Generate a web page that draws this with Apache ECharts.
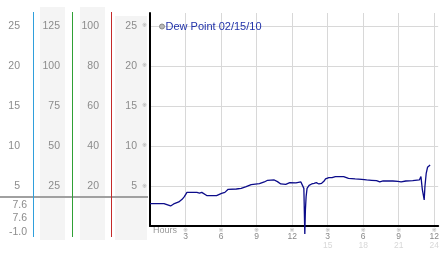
<!DOCTYPE html>
<html><head><meta charset="utf-8">
<script src="https://cdn.jsdelivr.net/npm/echarts@6/dist/echarts.min.js"></script>
<style>html,body{margin:0;padding:0;background:#fff}#c{width:442px;height:253px}</style>
</head><body><div id="c"></div>
<script>
const seriesName = 'Dew Point 02/15/10';
const hours = [0, 1.18, 1.32, 1.74, 2.0, 2.43, 2.71, 2.9, 3.12, 3.96, 4.18, 4.37, 4.79, 5.62, 6.04, 6.32, 6.6, 7.29, 7.7, 8.12, 8.54, 9.24, 9.65, 9.93, 10.49, 10.76, 11.04, 11.46, 11.8, 11.96, 12.32, 12.74, 12.875, 12.99, 13.07, 13.12, 13.18, 13.26, 13.43, 13.65, 13.85, 14.04, 14.26, 14.49, 14.68, 14.82, 15.1, 15.37, 15.65, 16.35, 16.76, 17.32, 17.875, 18.29, 18.71, 19.125, 19.4, 19.68, 20.1, 20.5, 20.93, 21.2, 21.6, 22.18, 22.74, 22.875, 22.99, 23.1, 23.15, 23.21, 23.32, 23.43, 23.65];
const dewPoint = [2.8, 2.8, 2.7, 2.5, 2.75, 3.0, 3.33, 3.67, 4.2, 4.2, 4.12, 4.2, 3.8, 3.8, 4.08, 4.2, 4.58, 4.62, 4.7, 4.92, 5.17, 5.29, 5.5, 5.71, 5.75, 5.54, 5.25, 5.2, 5.42, 5.25, 5.38, 5.5, 5.62, 4.7, -1.0, 2.0, 3.67, 4.7, 5.08, 5.25, 5.33, 5.42, 5.25, 5.33, 5.58, 5.88, 6.04, 6.04, 6.17, 6.17, 5.96, 5.88, 5.83, 5.75, 5.71, 5.67, 5.5, 5.62, 5.62, 5.62, 5.58, 5.5, 5.62, 5.67, 5.75, 6.17, 4.58, 3.67, 3.25, 4.92, 6.58, 7.33, 7.62];
const hourTicks = [3, 6, 9, 12, 15, 18, 21, 24];
const hourLabels = ['3', '6', '9', '12', '3', '6', '9', '12'];
const hourLabels2 = ['', '', '', '', '15', '18', '21', '24'];
const xAxisTitle = 'Hours';
const yMax = 26.6;
const sideScales = [1, 5, 4, 1];
const sideOffsets = [130, 90, 51, 13];

const data = hours.map((h, i) => [h, dewPoint[i]]);
const current = dewPoint[dewPoint.length - 1];
const maxV = Math.max(...dewPoint), minV = Math.min(...dewPoint);
const statLabels = [current.toFixed(1), maxV.toFixed(1), minV.toFixed(1)];

const FONT = 'Liberation Sans';
const chart = echarts.init(document.getElementById('c'), null, {renderer: 'canvas'});

const yAxes = [{
  type: 'value', min: 0, max: yMax, interval: 5, position: 'left', offset: 1,
  axisLine: {show: true, lineStyle: {color: '#000', width: 2}},
  axisTick: {show: false},
  splitLine: {show: true, showMinLine: false, showMaxLine: false, lineStyle: {color: '#d8d8d8', width: 1}},
  axisLabel: {showMinLabel: false, showMaxLabel: false, margin: 2, color: '#aaa', fontSize: 6, fontFamily: 'DejaVu Sans', formatter: () => '※'}
}];
sideScales.forEach((s, i) => {
  yAxes.push({
    type: 'value', min: 0, max: yMax * s, interval: 5 * s, position: 'left', offset: sideOffsets[i],
    axisLine: {show: false}, axisTick: {show: false}, splitLine: {show: false},
    axisLabel: {showMinLabel: false, showMaxLabel: false, margin: 0, color: '#8c8c8c', fontSize: 10.5, fontFamily: FONT}
  });
});

const graphics = [];
[[40, 7, 25, 233], [80, 7, 25, 233], [115, 16, 32, 224]].forEach(r => {
  graphics.push({type: 'rect', z: -10, shape: {x: r[0], y: r[1], width: r[2], height: r[3]}, style: {fill: '#f4f4f4'}, silent: true});
});
graphics.push({type: 'rect', z: 5, shape: {x: 0, y: 196, width: 148, height: 2}, style: {fill: '#a0a0a0'}});
[[33, '#2f9fdc'], [72, '#2fa035'], [111, '#c42a2a']].forEach(l => {
  graphics.push({type: 'rect', z: 6, shape: {x: l[0], y: 12, width: 1, height: 225}, style: {fill: l[1]}});
});
statLabels.forEach((t, i) => {
  graphics.push({type: 'text', z: 6, x: 27, y: 205 + i * 13.5, style: {text: t, fill: '#8c8c8c', font: '10.5px ' + FONT, textAlign: 'right', textVerticalAlign: 'middle'}});
});
graphics.push({type: 'text', z: 6, x: 153, y: 231, style: {text: xAxisTitle, fill: '#999', font: '9px ' + FONT, textAlign: 'left', textVerticalAlign: 'middle'}});

chart.setOption({
  animation: false,
  backgroundColor: '#fff',
  grid: {left: 150, right: 0, top: 13, bottom: 27, containLabel: false},
  legend: {
    show: true, left: 154, top: 16, icon: 'circle', itemWidth: 5, itemHeight: 5,
    itemStyle: {color: '#b8b8b8', borderColor: '#8a8a8a', borderWidth: 1},
    textStyle: {color: '#2233aa', fontSize: 11, fontFamily: FONT, padding: [0, 0, 0, -4]},
    data: [seriesName]
  },
  xAxis: {
    type: 'value', min: 0, max: 24.33, interval: 3,
    axisLine: {show: true, onZero: false, lineStyle: {color: '#000', width: 2}},
    axisTick: {show: false},
    splitLine: {show: true, showMinLine: false, showMaxLine: false, lineStyle: {color: '#d8d8d8', width: 1}},
    axisLabel: {
      showMinLabel: false, showMaxLabel: false, margin: 1,
      formatter: v => {
        const i = hourTicks.indexOf(v);
        if (i < 0) return '';
        let s = '{g|※}\n{n|' + hourLabels[i] + '}';
        if (hourLabels2[i]) s += '\n{l|' + hourLabels2[i] + '}';
        return s;
      },
      rich: {
        g: {fontSize: 6, lineHeight: 6, color: '#aaa', fontFamily: 'DejaVu Sans'},
        n: {fontSize: 8.5, lineHeight: 8, color: '#888', fontFamily: FONT},
        l: {fontSize: 8.5, lineHeight: 10, color: '#d8d8d8', fontFamily: FONT}
      }
    }
  },
  yAxis: yAxes,
  graphic: graphics,
  series: [{
    name: seriesName, type: 'line', data: data, clip: false, symbol: 'none',
    lineStyle: {color: '#0c0c8a', width: 1.3}, itemStyle: {color: '#0c0c8a'}, z: 10
  }]
});
</script></body></html>
